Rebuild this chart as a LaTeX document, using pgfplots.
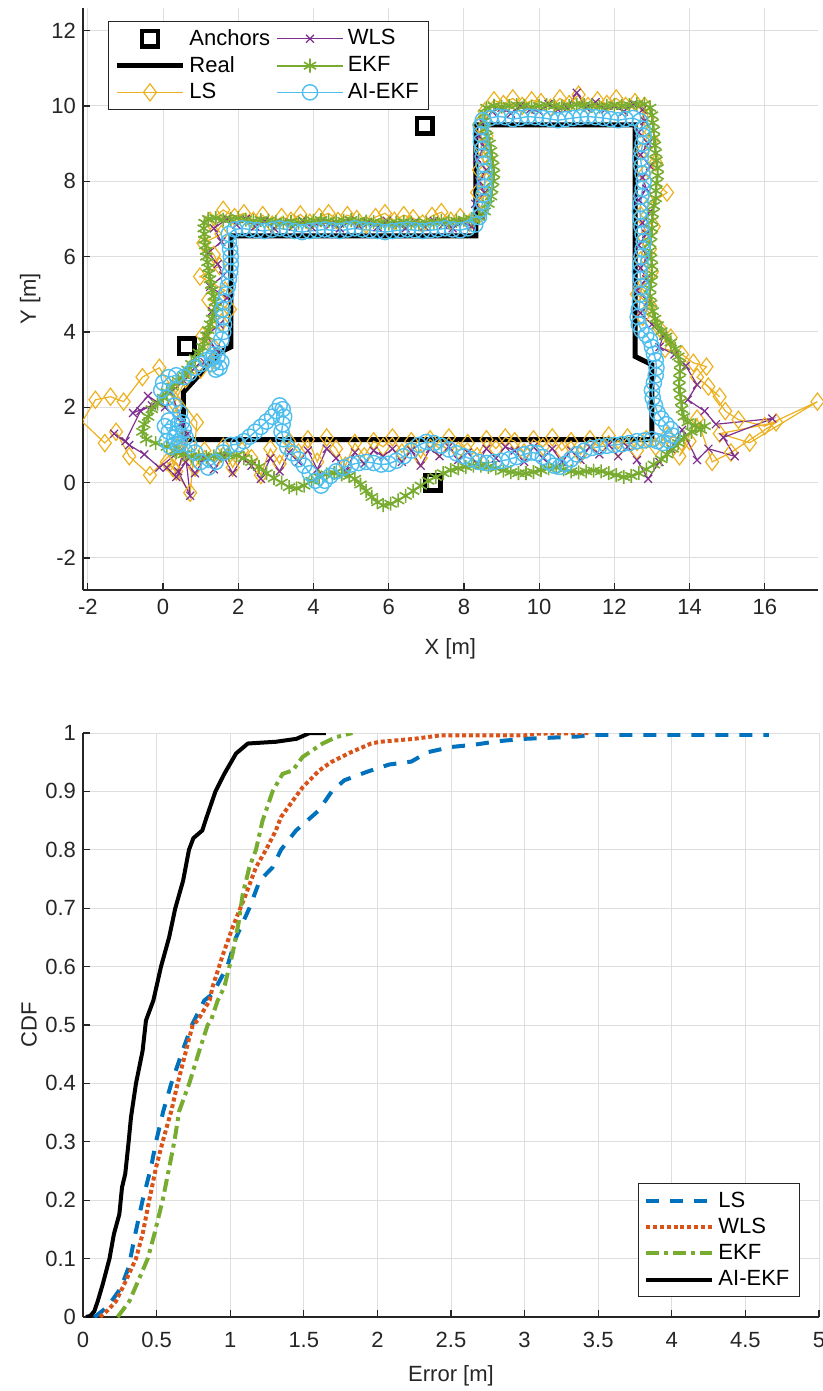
\documentclass[border=0pt]{standalone}
\usepackage{fontspec}
\setmainfont{Liberation Sans}
\usepackage{pgfplots}
\pgfplotsset{compat=1.18}
\definecolor{cLS}{HTML}{EDB120}
\definecolor{cWLS}{HTML}{7E2F8E}
\definecolor{cEKF}{HTML}{77AC30}
\definecolor{cAI}{HTML}{4DBEEE}
\definecolor{dLS}{HTML}{0072BD}
\definecolor{dWLS}{HTML}{D95319}
\definecolor{dEKF}{HTML}{77AC30}
\definecolor{axgray}{HTML}{262626}
\pgfplotsset{
  mataxis/.style={
    scale only axis,
    axis lines*=left,
    axis line style={color=axgray, line width=0.6pt},
    tick style={color=axgray, line width=0.6pt},
    major tick length=3.7pt,
    tick align=inside,
    grid=major,
    grid style={color=black!13, line width=0.5pt},
    ticklabel style={text=axgray},
    label style={text=axgray},
    legend cell align=left,
    legend image code/.code={\draw[mark repeat=2,mark phase=2,##1] plot coordinates {(0cm,0cm) (0.58cm,0cm) (1.16cm,0cm)};},
  }
}
\begin{document}
\begin{tikzpicture}[font=\fontsize{11}{13}\selectfont]
\useasboundingbox (-41.5pt,-400.5pt) rectangle (370pt,295pt);
\begin{axis}[mataxis,
  at={(0,0)}, anchor=south west,
  width=367.4pt, height=291pt,
  xmin=-2.13, xmax=17.41, ymin=-2.85, ymax=12.6,
  xtick={-2,0,2,4,6,8,10,12,14,16},
  xticklabels={-2,0,2,4,6,8,10,12,14,16},
  ytick={-2,0,2,4,6,8,10,12},
  yticklabels={-2,0,2,4,6,8,10,12},
  xticklabel style={yshift=-1pt},
  xlabel={X [m]}, ylabel={Y [m]},
  xlabel style={at={(axis description cs:0.5,-0.1015)}, anchor=center},
  ylabel style={at={(axis description cs:-0.072,0.5)}, anchor=center},
  legend columns=2,
  legend style={at={(axis description cs:0.034,0.978)}, anchor=north west,
    draw=axgray, line width=0.5pt, fill=white,
    /tikz/every even column/.append style={column sep=1pt}},
]
% Real path
\addplot[black, line width=2.5pt, forget plot] coordinates {
(0.54,1.14) (0.54,2.40) (1.50,3.45) (1.80,3.60) (1.80,6.55) (8.32,6.55) (8.32,9.50) (12.55,9.50) (12.55,3.35) (13.00,3.13) (13.00,1.14) (0.54,1.14)
};
% Anchors
\addplot[only marks, black, mark=square, mark size=3.9pt, line width=2.2pt, forget plot] coordinates {
(0.63,3.62) (6.96,9.48) (7.17,0.00)
};
% LS
\addplot[cLS, line width=0.6pt, mark=diamond, mark size=4.3pt, forget plot] coordinates {
(0.45,1.00) (-0.35,0.20) (-0.90,0.70) (-1.25,1.35) (-1.55,1.05) (-2.15,1.62) (-1.80,2.20) (-1.40,2.28) (-1.05,2.15) (-0.55,2.80) (-0.10,3.05) (0.25,2.50) (0.90,1.60) (0.72,-0.27) (0.25,0.40) (0.55,1.20) (0.30,2.10) (0.60,2.75) (1.00,3.00) (1.25,3.15) (1.35,3.60) (1.05,3.90) (1.55,4.25) (1.78,4.60) (1.20,4.85) (1.65,5.10) (0.98,5.47) (1.50,5.75) (1.35,6.05) (1.07,6.36) (1.55,6.60) (1.25,6.95) (1.60,7.24)
(1.90,7.05) (2.15,7.15) (2.40,6.95) (2.65,7.10) (2.90,6.85) (3.15,7.05) (3.40,6.95) (3.65,7.12) (3.90,6.90) (4.15,7.05) (4.40,7.15) (4.65,6.95) (4.90,7.10) (5.15,7.00) (5.40,6.85) (5.65,7.05) (5.90,7.15) (6.15,6.95) (6.40,7.10) (6.65,7.02) (6.90,6.88) (7.15,7.08) (7.40,7.18) (7.65,6.95) (7.90,7.05) (8.15,6.90) (8.40,7.10)
(8.55,7.40) (8.35,7.70) (8.60,8.00) (8.40,8.30) (8.65,8.60) (8.45,8.90) (8.60,9.20) (8.40,9.50) (8.55,9.85)
(8.80,10.15) (9.05,10.05) (9.30,10.20) (9.55,10.00) (9.80,10.15) (10.05,10.10) (10.30,9.95) (10.55,10.20) (10.80,10.05) (11.05,10.30) (11.30,10.00) (11.55,10.15) (11.80,10.05) (12.05,10.20) (12.30,10.00) (12.55,10.10) (12.80,10.00)
(12.90,9.70) (12.70,9.40) (13.00,9.10) (12.75,8.80) (13.10,8.50) (12.80,8.20) (13.40,7.70) (12.95,7.40) (12.70,7.10) (13.05,6.80) (12.80,6.50) (12.95,6.20) (12.70,5.90) (13.00,5.60) (12.80,5.30) (12.60,5.00) (12.95,4.70) (12.75,4.40) (13.20,4.10) (13.50,3.85) (13.35,3.55) (13.80,3.40) (14.10,3.18) (14.45,3.08) (14.20,2.80) (14.80,2.28) (14.50,2.55) (14.95,1.90) (15.30,1.67) (16.00,1.50) (17.40,2.15) (15.60,1.06) (14.80,1.30) (16.30,1.60) (15.10,0.80) (14.60,0.55) (14.20,1.70) (13.73,0.70) (14.00,1.10) (13.40,1.25) (13.10,0.95)
(12.85,1.15) (12.60,0.85) (12.35,1.20) (12.10,0.90) (11.85,1.25) (11.60,0.95) (11.35,1.15) (11.10,0.75) (10.85,1.10) (10.60,0.85) (10.35,1.20) (10.10,0.95) (9.85,1.15) (9.60,0.80) (9.35,1.10) (9.10,1.20) (8.85,0.90) (8.60,1.15) (8.35,0.70) (8.10,1.05) (7.85,0.85) (7.60,1.20) (7.35,0.90) (7.10,1.15) (6.85,0.65) (6.60,1.10) (6.35,0.80) (6.10,1.20) (5.85,0.95) (5.60,1.10) (5.35,0.70) (5.10,1.05) (4.85,0.45) (4.60,0.90) (4.35,1.20) (4.10,0.55) (3.85,1.15) (3.60,0.80) (3.35,1.10) (3.10,0.50) (2.85,0.90) (2.60,0.20) (2.35,0.65) (2.10,0.85) (1.85,0.40) (1.60,0.95) (1.35,0.55) (1.10,0.85) (0.85,0.40) (0.60,0.75) (0.35,0.30) (0.10,0.55)
};
% WLS
\addplot[cWLS, line width=0.6pt, mark=x, mark size=2.8pt, forget plot] coordinates {
(0.40,0.80) (-0.10,0.40) (-0.50,0.75) (-0.90,1.00) (-1.30,1.30) (-1.00,1.10) (-0.60,1.90) (-0.30,2.05) (-0.80,1.85) (-0.40,2.30) (0.05,2.00) (0.50,1.60) (0.72,-0.35) (0.40,0.30) (0.65,1.30) (0.20,2.40) (0.55,2.70) (0.85,3.05) (1.10,3.20) (1.40,3.55) (1.15,3.90) (1.50,4.20) (1.30,4.55) (1.70,4.90) (1.25,5.20) (1.60,5.50) (1.45,5.80) (1.20,6.10) (1.55,6.40) (1.35,6.75) (1.70,7.00)
(1.95,6.85) (2.20,7.00) (2.45,6.80) (2.70,6.95) (2.95,6.75) (3.20,6.90) (3.45,6.80) (3.70,6.95) (3.95,6.78) (4.20,6.92) (4.45,6.85) (4.70,6.75) (4.95,6.95) (5.20,6.82) (5.45,6.90) (5.70,6.78) (5.95,6.95) (6.20,6.85) (6.45,6.75) (6.70,6.92) (6.95,6.80) (7.20,6.95) (7.45,6.85) (7.70,6.75) (7.95,6.92) (8.20,6.80)
(8.45,7.10) (8.30,7.40) (8.55,7.70) (8.40,8.00) (8.60,8.30) (8.35,8.60) (8.55,8.90) (8.40,9.20) (8.50,9.55)
(8.75,9.85) (9.00,9.95) (9.25,9.80) (9.50,10.00) (9.75,9.90) (10.00,9.85) (10.25,10.05) (10.50,9.90) (10.75,9.95) (11.00,10.35) (11.25,9.95) (11.50,10.10) (11.75,9.90) (12.00,10.00) (12.25,9.85) (12.50,10.05) (12.75,9.90)
(12.80,9.60) (12.65,9.30) (12.90,9.00) (12.70,8.70) (12.95,8.40) (12.75,8.10) (12.85,7.80) (12.65,7.50) (12.95,7.20) (12.75,6.90) (12.85,6.60) (12.65,6.30) (12.90,6.00) (12.70,5.70) (12.85,5.40) (12.60,5.10) (12.90,4.80) (12.70,4.50) (13.00,4.20) (13.30,3.90) (13.20,3.60) (13.60,3.40) (13.90,3.10) (14.20,2.60) (13.95,2.20) (14.40,1.90) (14.70,1.55) (16.20,1.70) (14.90,1.20) (15.20,0.70) (14.50,0.90) (14.20,0.60) (13.80,1.40) (13.50,0.90) (13.20,0.55) (12.90,0.10)
(12.60,0.60) (12.35,0.95) (12.10,0.70) (11.85,1.00) (11.60,0.75) (11.35,0.95) (11.10,0.60) (10.85,0.85) (10.60,0.55) (10.35,0.90) (10.10,0.65) (9.85,0.95) (9.60,0.55) (9.35,0.85) (9.10,0.95) (8.85,0.65) (8.60,0.90) (8.35,0.50) (8.10,0.80) (7.85,0.60) (7.60,0.95) (7.35,0.70) (7.10,0.90) (6.85,0.45) (6.60,0.85) (6.35,0.55) (6.10,0.90) (5.85,0.70) (5.60,0.85) (5.35,0.50) (5.10,0.80) (4.85,0.30) (4.60,0.65) (4.35,0.90) (4.10,0.35) (3.85,0.85) (3.60,0.55) (3.35,0.80) (3.10,0.30) (2.85,0.65) (2.60,0.10) (2.35,0.45) (2.10,0.65) (1.85,0.25) (1.60,0.70) (1.35,0.35) (1.10,0.65) (0.85,0.25) (0.60,0.55) (0.35,0.15) (0.10,0.40)
};
% EKF
\addplot[cEKF, line width=0.8pt, mark=asterisk, mark size=3.5pt, forget plot] coordinates {
(0.30,0.85) (0.10,0.95) (-0.20,1.05) (-0.45,1.15) (-0.55,1.35) (-0.50,1.55) (-0.40,1.75) (-0.30,1.95) (-0.15,2.10) (0.00,2.25) (0.10,2.40) (0.25,2.55) (0.40,2.70) (0.55,2.85) (0.65,3.00) (0.75,3.15) (0.85,3.30) (0.95,3.45) (1.05,3.60) (1.10,3.75) (1.15,3.90) (1.20,4.05) (1.25,4.20) (1.30,4.35) (1.35,4.50) (1.40,4.65) (1.38,4.80) (1.35,4.95) (1.30,5.10) (1.28,5.25) (1.25,5.40) (1.22,5.55) (1.20,5.70) (1.18,5.85) (1.15,6.00) (1.15,6.15) (1.12,6.30) (1.10,6.45) (1.10,6.60) (1.08,6.75) (1.10,6.90) (1.20,7.00)
(1.40,7.02) (1.60,6.98) (1.80,7.00) (2.00,7.02) (2.20,6.98) (2.40,6.95) (2.60,6.97) (2.80,6.95) (3.00,6.92) (3.20,6.90) (3.40,6.92) (3.60,6.90) (3.80,6.93) (4.00,6.95) (4.20,6.97) (4.40,6.95) (4.60,6.93) (4.80,6.95) (5.00,6.97) (5.20,6.95) (5.40,6.93) (5.60,6.92) (5.80,6.90) (6.00,6.88) (6.20,6.90) (6.40,6.92) (6.60,6.90) (6.80,6.88) (7.00,6.90) (7.20,6.92) (7.40,6.95) (7.60,6.93) (7.80,6.95) (8.00,6.98) (8.20,7.00) (8.40,7.05)
(8.55,7.20) (8.65,7.40) (8.72,7.60) (8.75,7.80) (8.78,8.00) (8.80,8.20) (8.78,8.40) (8.75,8.60) (8.72,8.80) (8.68,9.00) (8.62,9.20) (8.58,9.40) (8.55,9.60) (8.55,9.80) (8.60,9.95)
(8.80,10.00) (9.00,9.98) (9.20,10.00) (9.40,10.02) (9.60,10.00) (9.80,9.98) (10.00,10.00) (10.20,10.02) (10.40,10.00) (10.60,9.98) (10.80,10.00) (11.00,10.03) (11.20,10.02) (11.40,10.00) (11.60,9.98) (11.80,10.00) (12.00,10.02) (12.20,10.00) (12.40,10.02) (12.60,10.05) (12.80,10.05) (12.95,9.95)
(13.00,9.75) (13.02,9.55) (13.05,9.35) (13.05,9.15) (13.08,8.95) (13.10,8.75) (13.12,8.55) (13.15,8.35) (13.15,8.15) (13.12,7.95) (13.10,7.75) (13.10,7.55) (13.05,7.35) (13.02,7.15) (13.00,6.95) (13.00,6.75) (12.98,6.55) (12.95,6.35) (12.95,6.15) (12.98,5.95) (13.00,5.75) (13.00,5.55) (12.98,5.35) (12.95,5.15) (12.95,4.95) (12.98,4.75) (13.02,4.55) (13.08,4.35) (13.15,4.18) (13.25,4.02) (13.38,3.88) (13.50,3.72) (13.62,3.55) (13.70,3.35) (13.75,3.15) (13.75,2.95) (13.73,2.75) (13.72,2.55) (13.75,2.35) (13.78,2.15) (13.80,1.95) (13.85,1.75) (13.95,1.60) (14.15,1.52) (14.40,1.50) (14.30,1.40) (14.05,1.35) (13.85,1.20) (13.70,1.05) (13.55,0.90) (13.40,0.75) (13.25,0.62) (13.05,0.48) (12.85,0.35) (12.65,0.25) (12.45,0.18) (12.25,0.15)
(12.05,0.20) (11.85,0.25) (11.65,0.30) (11.45,0.32) (11.25,0.30) (11.05,0.27) (10.85,0.30) (10.65,0.35) (10.45,0.40) (10.25,0.38) (10.05,0.33) (9.85,0.28) (9.65,0.25) (9.45,0.25) (9.25,0.28) (9.05,0.32) (8.85,0.38) (8.65,0.42) (8.45,0.45) (8.25,0.45) (8.05,0.42) (7.85,0.38) (7.65,0.33) (7.45,0.25) (7.25,0.15) (7.05,0.05) (6.85,-0.08) (6.65,-0.22) (6.45,-0.35) (6.25,-0.47) (6.05,-0.56) (5.85,-0.60) (5.70,-0.52) (5.55,-0.38) (5.40,-0.22) (5.25,-0.05) (5.10,0.10) (4.95,0.18) (4.75,0.22) (4.55,0.25) (4.35,0.22) (4.15,0.15) (3.95,0.05) (3.75,-0.08) (3.55,-0.15) (3.35,-0.12) (3.15,0.00) (2.95,0.12) (2.75,0.25) (2.55,0.42) (2.35,0.55) (2.15,0.65) (1.95,0.72) (1.75,0.73) (1.55,0.72) (1.35,0.70) (1.15,0.68) (0.95,0.68) (0.75,0.70) (0.55,0.75) (0.35,0.80)
};
% AI-EKF
\addplot[cAI, line width=0.7pt, mark=o, mark size=3.8pt, forget plot] coordinates {
(0.45,1.05) (0.30,1.20) (0.15,1.35) (0.05,1.50) (0.15,1.65) (0.40,1.55) (0.55,1.40) (0.60,1.20) (0.40,1.00) (0.20,0.95) (0.10,1.10) (0.35,1.30) (0.50,1.60) (0.45,1.85) (0.30,2.05) (0.10,2.25) (-0.05,2.45) (0.00,2.65) (0.15,2.80) (0.35,2.85) (0.55,2.80) (0.70,2.90) (0.85,3.05) (1.00,3.15) (1.15,3.25) (1.30,3.30) (1.45,3.35) (1.55,3.20) (1.50,3.05) (1.40,3.00) (1.30,3.15) (1.35,3.40) (1.45,3.60) (1.55,3.80) (1.60,4.00) (1.62,4.20) (1.60,4.40) (1.58,4.60) (1.62,4.80) (1.68,5.00) (1.72,5.20) (1.75,5.40) (1.78,5.60) (1.80,5.80) (1.80,6.00) (1.78,6.20) (1.75,6.40) (1.75,6.60)
(1.90,6.72) (2.10,6.75) (2.30,6.72) (2.50,6.70) (2.70,6.68) (2.90,6.72) (3.10,6.75) (3.30,6.72) (3.50,6.68) (3.70,6.65) (3.90,6.68) (4.10,6.70) (4.30,6.72) (4.50,6.70) (4.70,6.68) (4.90,6.72) (5.10,6.75) (5.30,6.72) (5.50,6.70) (5.70,6.68) (5.90,6.65) (6.10,6.68) (6.30,6.70) (6.50,6.72) (6.70,6.70) (6.90,6.68) (7.10,6.70) (7.30,6.72) (7.50,6.75) (7.70,6.72) (7.90,6.70) (8.10,6.75) (8.30,6.85)
(8.40,7.05) (8.45,7.25) (8.50,7.45) (8.52,7.65) (8.55,7.85) (8.55,8.05) (8.55,8.25) (8.52,8.45) (8.50,8.65) (8.48,8.85) (8.45,9.05) (8.45,9.25) (8.45,9.45) (8.50,9.62)
(8.70,9.68) (8.90,9.72) (9.10,9.70) (9.30,9.65) (9.50,9.68) (9.70,9.72) (9.90,9.70) (10.10,9.68) (10.30,9.65) (10.50,9.62) (10.70,9.65) (10.90,9.68) (11.10,9.70) (11.30,9.72) (11.50,9.70) (11.70,9.68) (11.90,9.65) (12.10,9.62) (12.30,9.65) (12.50,9.68) (12.68,9.60)
(12.75,9.40) (12.78,9.20) (12.75,9.00) (12.72,8.80) (12.70,8.60) (12.72,8.40) (12.75,8.20) (12.78,8.00) (12.75,7.80) (12.72,7.60) (12.70,7.40) (12.68,7.20) (12.70,7.00) (12.72,6.80) (12.75,6.60) (12.78,6.40) (12.75,6.20) (12.72,6.00) (12.70,5.80) (12.68,5.60) (12.70,5.40) (12.72,5.20) (12.70,5.00) (12.68,4.80) (12.65,4.60) (12.62,4.40) (12.65,4.20) (12.72,4.05) (12.85,3.92) (12.95,3.78) (13.00,3.60) (13.05,3.42) (13.10,3.25) (13.12,3.05) (13.10,2.85) (13.05,2.65) (13.00,2.45) (13.02,2.25) (13.08,2.05) (13.15,1.85) (13.25,1.70) (13.38,1.55) (13.50,1.42) (13.55,1.25) (13.45,1.12) (13.30,1.05) (13.15,1.10)
(13.00,1.15) (12.80,1.12) (12.60,1.10) (12.40,1.05) (12.20,1.02) (12.00,1.00) (11.80,0.98) (11.60,0.95) (11.40,0.92) (11.20,0.85) (11.00,0.75) (10.85,0.62) (10.70,0.50) (10.55,0.42) (10.40,0.45) (10.25,0.55) (10.10,0.68) (9.95,0.78) (9.80,0.80) (9.60,0.75) (9.40,0.68) (9.20,0.62) (9.00,0.58) (8.80,0.55) (8.60,0.52) (8.40,0.55) (8.20,0.62) (8.00,0.70) (7.80,0.78) (7.60,0.88) (7.40,0.98) (7.20,1.05) (7.00,1.08) (6.80,1.00) (6.60,0.85) (6.40,0.70) (6.20,0.58) (6.00,0.50) (5.80,0.48) (5.60,0.52) (5.40,0.55) (5.20,0.52) (5.00,0.48) (4.80,0.40) (4.60,0.30) (4.45,0.18) (4.30,0.05) (4.20,-0.08) (4.05,0.05) (3.90,0.25) (3.75,0.45) (3.60,0.62) (3.45,0.78) (3.30,0.95) (3.20,1.15) (3.15,1.35) (3.18,1.55) (3.22,1.75) (3.18,1.95) (3.10,2.05) (3.00,1.90) (2.90,1.75) (2.75,1.62) (2.60,1.48) (2.45,1.35) (2.30,1.22) (2.15,1.10) (2.00,1.02) (1.80,1.00) (1.60,0.80) (1.40,0.55) (1.20,0.40) (1.00,0.55) (0.85,0.80) (0.70,1.00)
};
% legend (row-major order for two columns)
\addlegendimage{black, mark=square, mark size=3.9pt, line width=2.2pt, dash pattern=on 0pt off 100pt, mark options={solid}}
\addlegendentry{Anchors}
\addlegendimage{cWLS, line width=0.6pt, mark=x, mark size=2.8pt}
\addlegendentry{WLS}
\addlegendimage{black, line width=2.5pt}
\addlegendentry{Real}
\addlegendimage{cEKF, line width=0.8pt, mark=asterisk, mark size=3.5pt}
\addlegendentry{EKF}
\addlegendimage{cLS, line width=0.6pt, mark=diamond, mark size=4.3pt}
\addlegendentry{LS}
\addlegendimage{cAI, line width=0.7pt, mark=o, mark size=3.8pt}
\addlegendentry{AI-EKF}
\end{axis}

\begin{axis}[mataxis,
  at={(0,-363.5pt)}, anchor=south west,
  width=368pt, height=292pt,
  xmin=0, xmax=5, ymin=0, ymax=1,
  xtick={0,0.5,1,1.5,2,2.5,3,3.5,4,4.5,5},
  xticklabels={0,0.5,1,1.5,2,2.5,3,3.5,4,4.5,5},
  ytick={0,0.1,0.2,0.3,0.4,0.5,0.6,0.7,0.8,0.9,1},
  yticklabels={0,0.1,0.2,0.3,0.4,0.5,0.6,0.7,0.8,0.9,1},
  xticklabel style={yshift=-4pt},
  xlabel={Error [m]}, ylabel={CDF},
  xlabel style={at={(axis description cs:0.5,-0.101)}, anchor=center},
  ylabel style={at={(axis description cs:-0.0734,0.5)}, anchor=center},
  legend style={at={(axis description cs:0.974,0.034)}, anchor=south east,
    draw=axgray, line width=0.5pt, fill=white},
]
\addplot[dLS, line width=2pt, dash pattern=on 6.5pt off 5.5pt] coordinates {
(0.077,0) (0.13,0.01) (0.18,0.022) (0.258,0.05) (0.31,0.085) (0.355,0.142) (0.405,0.2) (0.462,0.256) (0.496,0.3) (0.546,0.353) (0.6,0.4) (0.677,0.456) (0.74,0.5) (0.824,0.542) (0.88,0.553) (0.98,0.6) (1.04,0.65) (1.13,0.7) (1.2,0.747) (1.288,0.77) (1.345,0.8) (1.447,0.833) (1.6,0.867) (1.69,0.9) (1.775,0.919) (1.934,0.934) (2.08,0.946) (2.23,0.951) (2.34,0.967) (2.5,0.976) (2.66,0.98) (2.82,0.986) (3.0,0.99) (3.18,0.992) (3.36,0.994) (3.45,0.997) (4.66,0.997)
};
\addlegendentry{LS}
\addplot[dWLS, line width=2pt, dash pattern=on 2pt off 1.4pt] coordinates {
(0.116,0) (0.17,0.012) (0.224,0.027) (0.28,0.056) (0.36,0.1) (0.405,0.142) (0.45,0.2) (0.496,0.256) (0.541,0.3) (0.6,0.353) (0.643,0.4) (0.7,0.456) (0.745,0.5) (0.78,0.508) (0.86,0.542) (0.88,0.565) (0.95,0.62) (1.016,0.667) (1.107,0.724) (1.175,0.77) (1.243,0.8) (1.31,0.833) (1.345,0.856) (1.425,0.884) (1.492,0.907) (1.606,0.936) (1.685,0.95) (1.82,0.967) (1.957,0.982) (2.02,0.985) (2.25,0.99) (2.43,0.996) (3.0,0.996) (3.09,0.999) (3.45,1.0)
};
\addlegendentry{WLS}
\addplot[dEKF, line width=2pt, dash pattern=on 6.5pt off 2.5pt on 2pt off 2.5pt] coordinates {
(0.235,0) (0.315,0.027) (0.394,0.073) (0.44,0.1) (0.485,0.142) (0.541,0.2) (0.586,0.256) (0.62,0.3) (0.654,0.353) (0.722,0.4) (0.79,0.456) (0.847,0.5) (0.87,0.508) (0.915,0.542) (0.96,0.565) (1.016,0.622) (1.06,0.679) (1.085,0.724) (1.13,0.77) (1.175,0.8) (1.22,0.85) (1.288,0.9) (1.356,0.93) (1.425,0.936) (1.492,0.959) (1.628,0.982) (1.72,0.993) (1.83,1.0)
};
\addlegendentry{EKF}
\addplot[black, line width=2pt] coordinates {
(0.02,0) (0.05,0.002) (0.077,0.01) (0.1,0.027) (0.134,0.056) (0.18,0.1) (0.21,0.142) (0.247,0.176) (0.265,0.222) (0.287,0.245) (0.31,0.3) (0.326,0.342) (0.36,0.4) (0.405,0.456) (0.428,0.508) (0.478,0.542) (0.53,0.6) (0.585,0.65) (0.627,0.7) (0.68,0.747) (0.72,0.8) (0.75,0.82) (0.81,0.833) (0.84,0.856) (0.9,0.9) (0.96,0.93) (1.04,0.965) (1.12,0.982) (1.31,0.985) (1.45,0.99) (1.54,1.0) (1.65,1.0)
};
\addlegendentry{AI-EKF}
\end{axis}
\end{tikzpicture}
\end{document}
